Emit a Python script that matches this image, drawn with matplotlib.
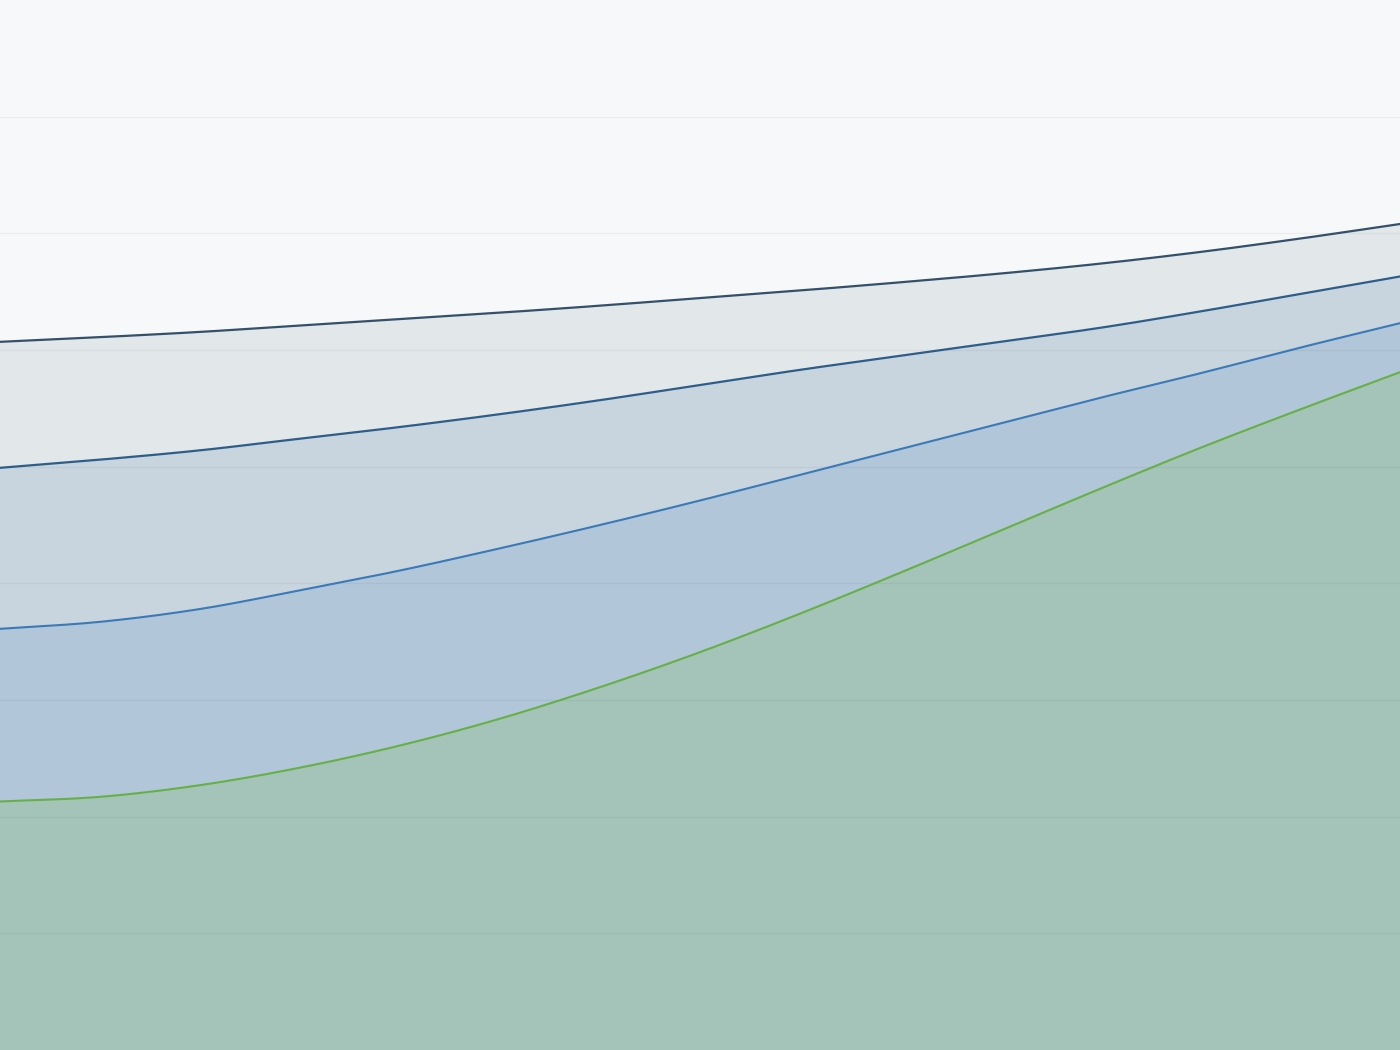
import numpy as np
import matplotlib
matplotlib.use("Agg")
import matplotlib.pyplot as plt

# x positions (evenly spaced samples across the chart)
x = list(range(15))

# stacked levels (y axis 0..90)
green_top = [21.3, 21.7, 22.7, 24.2, 26.1, 28.4, 31.1, 34.1, 37.4, 40.9, 44.5, 48.1, 51.6, 54.9, 58.1]
blue_top = [36.1, 36.7, 37.8, 39.4, 41.1, 43.0, 45.0, 47.1, 49.3, 51.5, 53.7, 55.9, 58.0, 60.2, 62.3]
navy_top = [49.9, 50.6, 51.4, 52.4, 53.4, 54.5, 55.7, 57.0, 58.3, 59.5, 60.7, 61.9, 63.3, 64.8, 66.3]
slate_top = [60.7, 61.1, 61.55, 62.1, 62.65, 63.2, 63.8, 64.45, 65.1, 65.8, 66.55, 67.4, 68.4, 69.55, 70.8]

y_max = 90
grid_levels = list(range(10, 90, 10))


def smooth(xs, ys, per_seg=20):
    # cubic hermite curve through the points, like a spline line
    xs = np.asarray(xs, float)
    ys = np.asarray(ys, float)
    m = np.gradient(ys, xs)
    out_x, out_y = [], []
    for i in range(len(xs) - 1):
        h = xs[i + 1] - xs[i]
        t = np.linspace(0, 1, per_seg, endpoint=False)
        h00 = 2 * t**3 - 3 * t**2 + 1
        h10 = t**3 - 2 * t**2 + t
        h01 = -2 * t**3 + 3 * t**2
        h11 = t**3 - t**2
        out_x.append(xs[i] + t * h)
        out_y.append(h00 * ys[i] + h10 * h * m[i] + h01 * ys[i + 1] + h11 * h * m[i + 1])
    out_x.append([xs[-1]])
    out_y.append([ys[-1]])
    return np.concatenate(out_x), np.concatenate(out_y)


xs, g = smooth(x, green_top)
_, b = smooth(x, blue_top)
_, n = smooth(x, navy_top)
_, s = smooth(x, slate_top)

fig = plt.figure(figsize=(14, 10.5), dpi=100)
fig.patch.set_facecolor("#f7f8f9")
ax = fig.add_axes([0, 0, 1, 1])
ax.set_facecolor("#f7f8f9")

ax.fill_between(xs, 0, g, color="#a4c4ba", lw=0, zorder=1)
ax.fill_between(xs, g, b, color="#b1c6d8", lw=0, zorder=1)
ax.fill_between(xs, b, n, color="#c9d5de", lw=0, zorder=1)
ax.fill_between(xs, n, s, color="#e2e7ea", lw=0, zorder=1)

for lvl in grid_levels:
    ax.axhline(lvl, color=(0, 0, 0, 0.045), lw=1, zorder=2)

ax.plot(xs, g, color="#66b045", lw=1.5, zorder=3)
ax.plot(xs, b, color="#3a7ab6", lw=1.5, zorder=3)
ax.plot(xs, n, color="#2d5e8a", lw=1.6, zorder=3)
ax.plot(xs, s, color="#34506a", lw=1.6, zorder=3)

ax.set_xlim(x[0], x[-1])
ax.set_ylim(0, y_max)
ax.axis("off")

fig.savefig("out.png", dpi=100, facecolor=fig.get_facecolor())
